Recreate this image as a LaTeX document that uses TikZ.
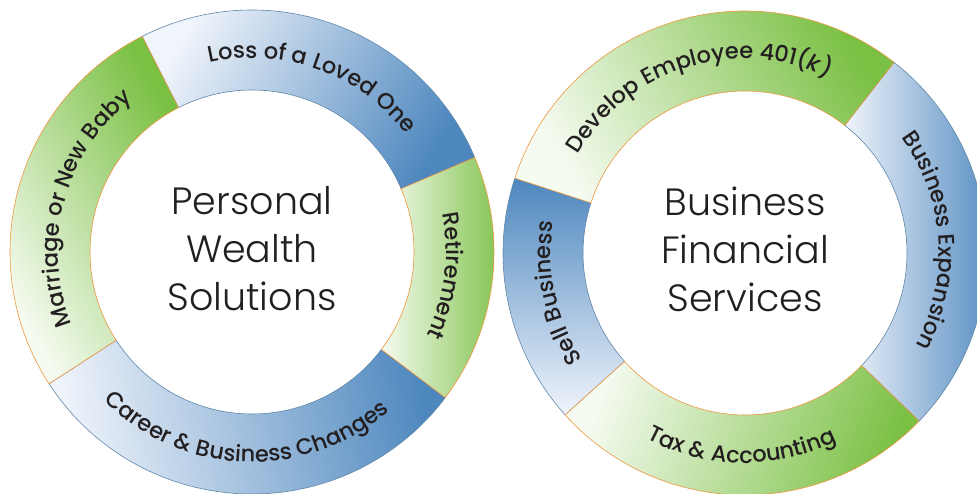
\documentclass[tikz,border=0pt]{standalone}
\usepackage{fontspec}
\setmainfont{Poppins}
\newfontfamily\centerfont{Poppins Light}
\newfontfamily\ringface{Poppins Medium}
\usetikzlibrary{decorations.text}

\definecolor{ringgreen}{RGB}{122,192,67}
\definecolor{ringblue}{RGB}{77,135,190}
\definecolor{lightgreen}{RGB}{246,251,241}
\definecolor{lightblue}{RGB}{240,244,251}
\definecolor{greenline}{RGB}{238,150,60}
\definecolor{blueline}{RGB}{95,135,170}
\definecolor{textdark}{RGB}{35,31,32}

\newcommand{\ringfont}{\ringface\fontsize{22.5}{22.5}\selectfont\color{textdark}}
% one piece of a ring: outer arc, then back along the inner arc
\newcommand{\ringseg}[3]{([shift={(#2:242)}]#1) arc[start angle=#2, end angle=#3, radius=242] -- ([shift={(#3:162)}]#1) arc[start angle=#3, end angle=#2, radius=162] -- cycle}

\begin{document}
\begin{tikzpicture}[x=1pt,y=1pt,
greenseg/.style={draw=greenline, line width=0.6pt, bottom color=lightgreen, top color=ringgreen},
blueseg/.style={draw=blueline, line width=0.6pt, bottom color=lightblue, top color=ringblue},
ringlabel/.style={decorate, decoration={text along path, text align=center, text={#1}}},
centerlabel/.style={align=center, font=\centerfont\fontsize{38}{48}\selectfont, text=textdark}]
	\useasboundingbox (0,0) rectangle (977,493);
	\clip (0,0) rectangle (977,493);
	\coordinate (pws) at (252,241);
	\coordinate (bfs) at (745,240);

	% personal wealth ring
	\shadedraw[blueseg, shading angle=-120] \ringseg{pws}{23}{117};
	\shadedraw[blueseg, shading angle=-80] \ringseg{pws}{213}{323};
	\shadedraw[greenseg, shading angle=-60] \ringseg{pws}{117}{213};
	\shadedraw[greenseg, shading angle=-90] \ringseg{pws}{-37}{23};

	% business ring
	\shadedraw[blueseg, shading angle=-90] \ringseg{bfs}{-44}{52};
	\shadedraw[blueseg, shading angle=0] \ringseg{bfs}{162}{222};
	\shadedraw[greenseg, shading angle=-60] \ringseg{bfs}{52}{162};
	\shadedraw[greenseg, shading angle=-110] \ringseg{bfs}{222}{316};

	\path[ringlabel={|\ringfont|Marriage or New Baby}] ([shift={(213:194)}]pws) arc[start angle=213, end angle=117, radius=194];
	\path[ringlabel={|\ringfont|Loss of a Loved One}] ([shift={(117:194)}]pws) arc[start angle=117, end angle=23, radius=194];
	\path[ringlabel={|\ringfont|Retirement}] ([shift={(23:194)}]pws) arc[start angle=23, end angle=-37, radius=194];
	\path[ringlabel={|\ringfont|Career {\&} Business Changes}] ([shift={(213:210)}]pws) arc[start angle=213, end angle=323, radius=210];

	\path[ringlabel={|\ringfont|Develop Employee 401({\textit{k}})}] ([shift={(162:194)}]bfs) arc[start angle=162, end angle=52, radius=194];
	\path[ringlabel={|\ringfont|Business Expansion}] ([shift={(52:194)}]bfs) arc[start angle=52, end angle=-44, radius=194];
	\path[ringlabel={|\ringfont|Tax {\&} Accounting}] ([shift={(222:210)}]bfs) arc[start angle=222, end angle=316, radius=210];
	\path[ringlabel={|\ringfont|Sell Business}] ([shift={(222:194)}]bfs) arc[start angle=222, end angle=162, radius=194];

	\node[centerlabel] (pwstext) at ([yshift=3pt]pws) {Personal\\Wealth\\Solutions};
	\node[centerlabel] (bfstext) at ([yshift=3.5pt]bfs) {Business\\Financial\\Services};
\end{tikzpicture}
\end{document}
